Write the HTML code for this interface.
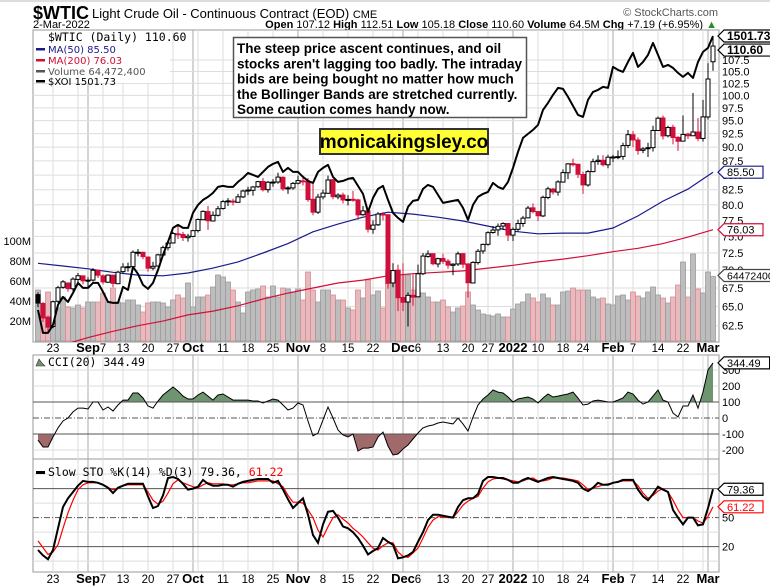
<!DOCTYPE html>
<html><head><meta charset="utf-8"><style>
html,body{margin:0;padding:0;background:#fff;}
svg{display:block;font-family:"Liberation Sans",sans-serif;}
</style></head><body>
<svg id="chart" width="770" height="587" viewBox="0 0 770 587" xmlns="http://www.w3.org/2000/svg">
<defs>
<clipPath id="mainClip"><rect x="33" y="30" width="686" height="312"/></clipPath>
<clipPath id="cciClip"><rect x="33" y="355" width="686" height="104"/></clipPath>
<clipPath id="cciUp"><rect x="33" y="355" width="686" height="47"/></clipPath>
<clipPath id="cciDn"><rect x="33" y="434" width="686" height="25"/></clipPath>
<clipPath id="stoClip"><rect x="33" y="459" width="686" height="113"/></clipPath>
</defs>
<line x1="0" y1="1" x2="770" y2="1" stroke="#bbb"/>
<g>
<text x="33" y="19" font-size="18" font-weight="bold">$WTIC</text>
<text x="92" y="18" font-size="13">Light Crude Oil - Continuous Contract (EOD) <tspan font-size="11">CME</tspan></text>
<text x="718" y="16" font-size="11" fill="#555" text-anchor="end">© StockCharts.com</text>
<text x="33" y="28" font-size="11">2-Mar-2022</text>
<text x="717" y="28" font-size="11" text-anchor="end"><tspan font-weight="bold">Open</tspan> 107.12 <tspan font-weight="bold">High</tspan> 112.51 <tspan font-weight="bold">Low</tspan> 105.18 <tspan font-weight="bold">Close</tspan> 110.60 <tspan font-weight="bold">Volume</tspan> 64.5M <tspan font-weight="bold">Chg</tspan> +7.19 (+6.95%) <tspan fill="#2a8a2a">▲</tspan></text>
</g>
<g id="grid"></g>
<g id="main" clip-path="url(#mainClip)"></g>
<g id="cci"></g>
<g id="sto"></g>
<g id="axes"></g>
<g id="overlay"></g>
</svg>
<script>
// ---------- data ----------
const openP=[66.6,65.4,63.6,62.4,65.7,67.6,68.2,67.4,68.7,69.2,68.5,68.6,70.0,69.2,68.3,69.3,68.1,69.8,70.5,70.5,72.6,72.6,71.9,70.3,70.6,72.2,73.3,74.0,75.4,75.3,74.8,75.0,75.9,77.6,78.9,77.4,78.3,79.4,80.5,80.6,80.4,81.3,82.3,82.4,83.0,83.9,82.5,83.8,83.8,84.6,82.7,82.8,83.6,84.0,83.9,80.9,78.8,81.3,81.9,84.2,81.3,81.6,80.8,80.9,80.8,78.4,79.0,76.1,76.8,78.5,78.4,68.2,70.0,66.2,65.6,66.5,66.3,69.5,72.0,72.4,70.9,71.7,71.3,70.7,70.9,72.4,70.9,68.2,71.1,72.8,73.8,75.6,76.0,76.6,77.0,75.2,76.1,77.0,77.9,79.5,78.9,78.2,81.2,82.6,82.1,83.8,85.4,87.0,86.9,85.1,83.3,85.6,87.4,87.6,86.8,88.2,88.2,88.3,90.3,92.3,91.3,89.4,89.7,89.9,93.1,95.5,92.1,93.7,91.8,91.1,92.4,92.1,92.8,91.6,95.7,107.12];
const highP=[66.9,65.6,63.8,65.8,67.8,68.6,68.2,69.0,69.6,69.2,69.0,70.3,70.0,69.4,69.4,69.3,69.9,71.0,71.1,72.9,73.1,72.7,72.0,71.2,72.4,73.6,74.1,75.7,76.7,75.7,75.4,76.0,77.8,79.1,79.8,78.9,79.8,80.8,81.1,81.0,81.8,82.5,83.0,83.1,84.0,84.5,84.0,84.3,85.4,84.8,83.1,83.8,84.9,84.9,84.5,83.5,81.8,82.5,84.9,84.3,81.9,82.0,81.6,82.3,81.0,79.8,79.0,77.5,78.8,78.8,78.4,71.0,70.8,71.0,66.9,69.4,70.8,72.5,72.9,72.4,71.8,72.4,71.6,71.0,72.7,72.5,71.0,71.3,73.1,73.9,75.8,76.6,77.0,77.2,77.1,76.4,77.6,78.2,79.8,80.2,79.0,81.5,83.0,82.8,84.1,86.0,87.1,87.9,86.9,85.6,85.9,87.9,88.5,88.5,88.6,88.6,89.4,90.8,93.2,93.0,91.8,90.0,90.8,94.0,95.8,96.0,94.0,94.2,92.0,96.0,92.7,100.5,95.5,99.1,106.8,112.51];
const lowP=[64.9,63.0,61.7,62.2,65.5,67.4,67.0,67.1,68.2,68.0,67.6,68.4,68.9,68.0,68.2,67.6,68.1,69.6,69.8,70.3,72.0,71.6,69.8,70.0,70.5,72.0,72.9,73.9,74.6,74.3,74.2,74.9,75.6,77.6,76.0,77.3,78.1,79.2,79.8,79.9,80.4,81.1,81.6,81.5,82.8,82.2,82.0,83.0,83.5,82.3,81.8,82.5,83.4,83.2,80.5,78.3,78.5,80.9,81.8,80.9,80.9,80.2,79.9,80.5,77.6,78.2,75.6,75.4,76.6,77.5,67.4,67.6,64.4,64.4,62.4,65.1,66.2,69.3,71.8,70.7,70.4,70.9,70.2,69.3,70.6,70.3,66.2,68.2,70.8,72.4,73.6,75.4,75.1,76.0,74.3,74.3,75.8,76.5,77.8,78.6,77.4,78.0,80.9,81.7,81.5,83.7,84.3,86.5,84.5,81.8,83.0,85.5,86.8,86.5,86.2,87.3,87.8,87.7,89.8,90.0,88.6,88.9,88.2,89.2,93.0,91.4,91.8,90.5,89.3,91.1,91.5,92.1,91.1,91.0,95.2,105.18];
const closeP=[65.46,63.50,62.32,65.64,67.54,68.36,67.42,68.74,69.21,68.50,68.59,69.99,69.29,68.35,69.30,68.14,69.72,70.45,70.46,72.61,72.61,71.97,70.29,70.56,72.23,73.30,73.98,75.45,75.29,74.83,75.03,75.88,77.62,78.93,77.43,78.30,79.35,80.52,80.64,80.44,81.31,82.28,82.44,82.96,83.87,82.50,83.76,83.76,84.65,82.66,82.81,83.57,84.05,83.91,80.86,78.81,81.27,81.93,84.15,81.34,81.59,80.79,80.88,80.76,78.36,79.01,76.10,76.75,78.50,78.39,68.15,69.95,66.18,65.57,66.50,66.26,69.49,72.05,72.36,70.94,71.67,71.29,70.73,70.87,72.38,70.86,68.23,71.12,72.76,73.79,75.57,75.98,76.56,76.99,75.21,76.08,76.99,77.85,79.46,78.90,78.23,81.22,82.64,82.12,83.82,85.43,86.96,86.90,85.14,83.31,85.60,87.35,87.61,86.82,88.15,88.20,88.26,90.27,92.31,91.32,89.36,89.66,89.88,93.10,95.46,92.07,93.66,91.76,91.07,92.35,92.10,92.81,91.59,95.72,103.41,110.60];
const volumeM=[51,26,49,39,33,44,34,33,36,33,39,39,39,48,39,53,39,38,41,41,36,29,38,39,39,38,34,41,46,43,58,34,44,44,46,54,66,64,59,51,39,28,49,51,52,55,44,55,44,53,52,49,52,41,69,51,39,51,51,46,41,41,33,31,51,43,61,46,50,33,71,66,71,66,66,51,49,48,44,39,39,41,34,29,33,35,49,36,31,27,26,25,27,24,24,32,37,39,47,43,39,47,43,36,36,49,50,53,51,51,51,44,42,43,37,36,45,46,41,49,45,43,49,54,46,43,38,44,56,79,44,87,52,48,69,64.47];
const xoi=[954,908,908,924,964,980,970,988,1008,998,998,1008,1008,990,970,968,968,1000,994,1040,1026,1004,996,1008,1034,1064,1090,1118,1124,1118,1118,1148,1164,1174,1180,1188,1200,1202,1200,1200,1210,1218,1228,1224,1220,1230,1240,1246,1250,1230,1238,1230,1230,1220,1212,1208,1230,1238,1244,1220,1210,1212,1216,1218,1202,1186,1150,1178,1196,1202,1174,1148,1138,1130,1160,1172,1174,1196,1204,1200,1184,1168,1170,1172,1174,1158,1134,1164,1180,1186,1190,1208,1200,1196,1210,1238,1270,1298,1306,1314,1324,1354,1368,1384,1398,1396,1380,1362,1344,1340,1374,1390,1394,1400,1398,1440,1434,1430,1450,1468,1440,1450,1464,1488,1464,1440,1444,1438,1428,1420,1428,1418,1450,1470,1478,1501.73];
const ma50=[71.0,70.6,70.2,69.7,69.3,69.2,69.6,70.3,71.2,72.5,73.9,75.7,76.9,78.0,78.8,78.5,78.0,77.4,76.6,75.8,75.4,75.5,75.5,76.3,78.2,80.6,82.6,85.5];
const ma200=[59.5,60.1,61.0,61.8,62.5,63.1,63.9,64.4,65.1,66.0,66.8,67.5,68.2,68.6,69.2,69.5,69.7,69.9,70.3,70.7,71.2,71.6,72.1,72.7,73.2,73.9,74.9,76.03];
const cci=[-138,-181,-181,-119,-62,-19,0,38,62,62,56,100,100,50,69,44,81,112,112,156,156,125,75,62,106,144,169,194,169,137,119,119,144,162,137,112,144,150,131,112,112,112,112,106,106,94,106,119,112,81,50,62,94,81,-19,-112,-94,-12,69,0,-75,-106,-119,-100,-206,-188,-188,-181,-119,-88,-175,-231,-225,-194,-169,-131,-94,-62,-50,-44,-31,-25,-31,-37,0,-37,-81,6,81,119,144,175,162,156,131,100,119,125,131,119,94,125,150,131,137,144,150,162,125,81,87,106,112,106,100,100,112,125,162,150,112,87,100,137,175,112,100,31,6,75,75,144,62,162,300,344.49];
const stoK=[16.5,11,7,16.5,39,61,70,76.5,83,88,87,87,86,84,81,75.5,81,83,85,85,85,85,72,60,62,73,91,92,90,85,79,80,82,89,85,83,83,84,84,82,85,87,88,89,90,90,90,86,88,79,69,60,65,70,53,32,24,43,56,57,50,41,39,35,29,21,12,15.5,18.5,29,25,22,8,9,11,14.5,25,35,47.5,53,53,52,51,50,61,68,70,70,74.5,88,92,92,91,91,89,86,86,89,91,89,87,89,91,92,91,90,89,88,86,80,77.5,81,86,84,84,86,87,89,89,89,79,72,68,74.5,82,79,76.5,58,50,43,50,50,42,43,60,79.36];
const stoD=[26,19,12,14.5,22,39,55,68,79,84,86,86,86,84,81,79,80,83,84,84,84,84,76.5,68,64,67,75.5,85,89,86,84,82,81,84,86,85,85,85,84,84,85,86,86,87,88,88,88,88,85,82,73,66,66,65,58,50,37,30,40.5,50,53,48.5,44.5,39,35,30,24,18.5,16.5,21,24,24,14.5,10,9,13.5,18.5,29,40,47.5,51,51,50,50,56,63,67,70,72,80.5,87,90,91,90,89,88,87,88,90,91,88,88,89,91,91,91,90,89,88,84,79,81,82,84,85,86,87,88,88,88,83,75.5,70,73,77.5,80,76.5,68,58,50,50,50,46.5,44.5,51,61.22];
const priceTicks=[62.5,65.0,67.5,70.0,72.5,75.0,77.5,80.0,82.5,85.0,87.5,90.0,92.5,95.0,97.5,100.0,102.5,105.0,107.5];
const volTicks=[20,40,60,80,100];
const cciTicks=[300,200,100,0,-100,-200];
const stoTicks=[50,20];
const dateLabels=[[3,"23",0],[10,"Sep",1],[13,"7",0],[17,"13",0],[22,"20",0],[27,"27",0],[31,"Oct",1],[37,"11",0],[42,"18",0],[47,"25",0],[52,"Nov",1],[57,"8",0],[62,"15",0],[67,"22",0],[73,"Dec",1],[76,"6",0],[81,"13",0],[86,"20",0],[90,"27",0],[95,"2022",1],[100,"10",0],[105,"18",0],[109,"24",0],[115,"Feb",1],[119,"7",0],[124,"14",0],[129,"22",0],[134,"Mar",1]];
const extraGrid=[8,32,71,114,133];

// ---------- scales ----------
const NS='http://www.w3.org/2000/svg';
const X=i=>38+5*i;
const PY=p=>60-490*Math.log(p/107.5);
const VY=m=>341-m;
const XY=v=>36+(1501.73-v)*0.5;
const CY=v=>418-v*0.16;
const SY=v=>566-v*0.967;
function mk(parent,tag,attrs){const e=document.createElementNS(NS,tag);for(const k in attrs)e.setAttribute(k,attrs[k]);parent.appendChild(e);return e;}
const G=id=>document.getElementById(id);
const grid=G('grid'),main=G('main'),cciG=G('cci'),stoG=G('sto'),axes=G('axes'),ov=G('overlay');

// panels
[[30,312,'price-panel'],[355,104,'cci-panel'],[459,113,'sto-panel']].forEach(p=>{
  const r=mk(grid,'rect',{x:33,y:p[0],width:686,height:p[1],fill:'#fff',stroke:'#999'});
  
  
});
// vertical grid
const vIdx=dateLabels.map(d=>[d[0],d[2]]).concat(extraGrid.map(i=>[i,0]));
vIdx.forEach(v=>{
  [[30,342],[355,459],[459,572]].forEach(s=>{
    const l=mk(grid,'line',{x1:X(v[0]),x2:X(v[0]),y1:s[0],y2:s[1],stroke:v[1]?'#aaa':'#ddd','stroke-width':1});
    
    
  });
});
priceTicks.forEach(t=>{
  const l=mk(grid,'line',{x1:33,x2:719,y1:PY(t),y2:PY(t),stroke:'#ddd'});
  
  
});
[300,200,-200].forEach(t=>{const l=mk(grid,'line',{x1:33,x2:719,y1:CY(t),y2:CY(t),stroke:'#ddd'});
  
  });
[5,35,65,95].forEach(t=>{const l=mk(grid,'line',{x1:33,x2:719,y1:SY(t),y2:SY(t),stroke:'#ddd'});
  
  });

// volume
volumeM.forEach((m,i)=>{
  const down=i>0&&closeP[i]<closeP[i-1];
  const r=mk(main,'rect',{x:X(i)-2.5,y:VY(m),width:5,height:341-VY(m),fill:down?'#e8b9bd':'#bdbdbd',stroke:down?'#d48e95':'#9c9c9c','stroke-width':0.8});
  
  
});
// moving averages
function poly(parent,pts,attrs,name){const e=mk(parent,'polyline',Object.assign({points:pts.map(p=>p[0].toFixed(1)+','+p[1].toFixed(1)).join(' '),fill:'none'},attrs));return e;}
const ma200Line=poly(main,ma200.map((v,k)=>[X(k*5),PY(v)]),{stroke:'#d0103a','stroke-width':1.2},'ma200-line');

const ma50Line=poly(main,ma50.map((v,k)=>[X(k*5),PY(v)]),{stroke:'#1a1a8c','stroke-width':1.2},'ma50-line');

// candles
closeP.forEach((c,i)=>{
  const o=openP[i],h=highP[i],l=lowP[i];
  const red=i>0&&c<closeP[i-1];
  const col=red?'#d0103a':'#000';
  const g=mk(main,'g',{});
  
  
  mk(g,'line',{x1:X(i),x2:X(i),y1:PY(h),y2:PY(l),stroke:col,'stroke-width':1});
  const top=PY(Math.max(o,c)),bot=PY(Math.min(o,c));
  mk(g,'rect',{x:X(i)-2,y:top,width:4,height:Math.max(1,bot-top),fill:c<o?col:'#fff',stroke:col,'stroke-width':1});
});
// XOI
const xoiLine=poly(main,xoi.map((v,i)=>[X(i),XY(v)]),{stroke:'#000','stroke-width':2,'stroke-linejoin':'round'},'xoi-line');


// CCI
const cciPts=cci.map((v,i)=>[X(i),CY(v)]);
const areaUp=mk(cciG,'polygon',{points:[[X(0),CY(100)]].concat(cciPts,[[X(cci.length-1),CY(100)]]).map(p=>p.join(',')).join(' '),fill:'#6f9470',stroke:'none','clip-path':'url(#cciUp)'});


const areaDn=mk(cciG,'polygon',{points:[[X(0),CY(-100)]].concat(cciPts,[[X(cci.length-1),CY(-100)]]).map(p=>p.join(',')).join(' '),fill:'#a06a6a',stroke:'none','clip-path':'url(#cciDn)'});


[[100,'none'],[-100,'none'],[0,'6,2,1,2']].forEach(r=>{const l=mk(cciG,'line',{x1:33,x2:719,y1:CY(r[0]),y2:CY(r[0]),stroke:'#555','stroke-dasharray':r[1]});
  
  });
const cciLine=poly(cciG,cciPts,{stroke:'#000','stroke-width':1,'clip-path':'url(#cciClip)'},'cci-line');


// STO
[[80,'none'],[20,'none'],[50,'6,2,1,2']].forEach(r=>{const l=mk(stoG,'line',{x1:33,x2:719,y1:SY(r[0]),y2:SY(r[0]),stroke:'#555','stroke-dasharray':r[1]});
  
  });
const dLine=poly(stoG,stoD.map((v,i)=>[X(i),SY(v)]),{stroke:'#ff0000','stroke-width':1.2,'clip-path':'url(#stoClip)'},'sto-d-line');

const kLine=poly(stoG,stoK.map((v,i)=>[X(i),SY(v)]),{stroke:'#000','stroke-width':2,'clip-path':'url(#stoClip)'},'sto-k-line');


// axes labels
function txt(parent,x,y,s,attrs,name){const t=mk(parent,'text',Object.assign({x:x,y:y,'font-size':11},attrs));t.textContent=s;return t;}
priceTicks.forEach(t=>txt(axes,722,PY(t)+4,t.toFixed(1),{},'price-tick-label'));
volTicks.forEach(t=>txt(axes,31,VY(t)+4,t+'M',{'text-anchor':'end'},'volume-tick-label'));
cciTicks.forEach(t=>txt(axes,722,CY(t)+4,String(t),{},'cci-tick-label'));
stoTicks.forEach(t=>txt(axes,722,SY(t)+4,String(t),{},'sto-tick-label'));
dateLabels.forEach(d=>{
  txt(axes,X(d[0]),352,d[1],{'text-anchor':'middle','font-size':d[2]?13:11.5,'font-weight':d[2]?'bold':'normal'},'x-axis-label');
  txt(axes,X(d[0]),583,d[1],{'text-anchor':'middle','font-size':d[2]?13:11.5,'font-weight':d[2]?'bold':'normal'},'x-axis-label-bottom');
});

// value tags
function tag(y,s,stroke,color,bold,name,fs){
  const g=mk(ov,'g',{});
  
  
  const w=s.length*(fs||11)*0.6+6;
  mk(g,'path',{d:`M718,${y} L724,${y-6} L${724+w},${y-6} L${724+w},${y+6} L724,${y+6} Z`,fill:'#fff',stroke:stroke,'stroke-width':1.2});
  const t=mk(g,'text',{x:727,y:y+4,'font-size':fs||11,fill:color,'font-weight':bold?'bold':'normal'});t.textContent=s;
}
tag(XY(xoi[xoi.length-1]),'1501.73','#000','#000',true,'xoi-value-tag',12);
tag(PY(closeP[closeP.length-1])+4,'110.60','#000','#000',true,'price-value-tag',12);
tag(PY(ma50[ma50.length-1]),'85.50','#1a1a8c','#000',false,'ma50-value-tag');
tag(PY(ma200[ma200.length-1]),'76.03','#d0103a','#000',false,'ma200-value-tag');
tag(VY(volumeM[volumeM.length-1])-1,'64472400','#444','#000',false,'volume-value-tag',10.5);
tag(CY(cci[cci.length-1]),'344.49','#000','#000',false,'cci-value-tag');
tag(SY(stoK[stoK.length-1]),'79.36','#000','#000',false,'sto-k-value-tag');
tag(SY(stoD[stoD.length-1]),'61.22','#ff0000','#ff0000',false,'sto-d-value-tag');
</script>
<svg width="0" height="0"></svg>
<script>
(function(){
const NS='http://www.w3.org/2000/svg';
const ov=document.getElementById('overlay');
function el(tag,a,p){const e=document.createElementNS(NS,tag);for(const k in a)e.setAttribute(k,a[k]);(p||ov).appendChild(e);return e;}
// legend
const lg=el('g',{});


el('rect',{x:34,y:31,width:136,height:52,fill:'#fff'},lg);
const items=[['$WTIC (Daily) 110.60','#000',41,'"DejaVu Sans Mono",monospace',11.5],['MA(50) 85.50','#1a1a8c',53,'"DejaVu Sans",sans-serif',10],['MA(200) 76.03','#d0103a',64,'"DejaVu Sans",sans-serif',10],['Volume 64,472,400','#555',75,'"DejaVu Sans",sans-serif',10],['$XOI 1501.73','#000',85,'"DejaVu Sans",sans-serif',10]];
items.forEach((it,k)=>{
  const t=el('text',{x:48,y:it[2],'font-size':it[4],fill:it[1],'font-family':it[3]},lg);t.textContent=it[0];
  
  
  if(k>0) el('rect',{x:36,y:it[2]-5,width:9,height:2.5,fill:it[1]},lg);
});
// CCI & STO legends
const c=el('text',{x:48,y:366,'font-size':11.5,'font-family':'"DejaVu Sans Mono",monospace'});c.textContent='CCI(20) 344.49';


el('path',{d:'M36,366 L39,359 L42,363 L45,366 Z',fill:'#6f9470',stroke:'#333','stroke-width':0.6});
const s=el('text',{x:48,y:476,'font-size':11.5,'font-family':'"DejaVu Sans Mono",monospace'});


s.innerHTML='Slow STO %K(14) %D(3) 79.36, <tspan fill="#ff0000">61.22</tspan>';
el('rect',{x:36,y:471,width:9,height:3,fill:'#000'});
// annotation box
const ab=el('g',{});


el('rect',{x:233.5,y:37.5,width:293,height:80,fill:'#fff',stroke:'#555','stroke-width':1.5},ab);
['The steep price ascent continues, and oil','stocks aren\'t lagging too badly. The intraday','bids are being bought no matter how much','the Bollinger Bands are stretched currently.','Some caution comes handy now.'].forEach((l,k)=>{
  const t=el('text',{x:237,y:53+k*15.3,'font-size':13.5,'font-weight':'bold'},ab);t.textContent=l;
});
const wb=el('g',{});


el('rect',{x:320,y:129,width:168,height:25,fill:'#ffff33',stroke:'#333','stroke-width':2},wb);
const wt=el('text',{x:404,y:148,'font-size':19,'font-weight':'bold','text-anchor':'middle'},wb);wt.textContent='monicakingsley.co';
})();
</script>
</body></html>
